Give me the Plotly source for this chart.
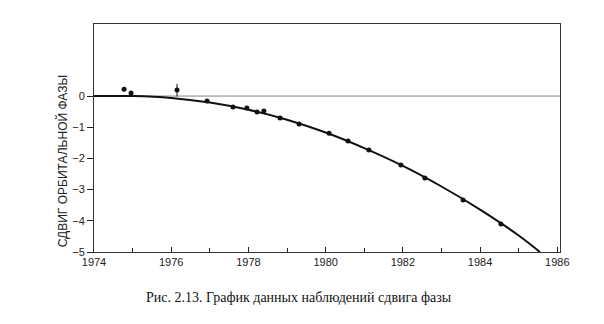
import plotly.graph_objects as go

# Observed data points (year, phase shift)
obs_t = [1974.78, 1974.96, 1976.15, 1976.93, 1977.60, 1977.96, 1978.22, 1978.40,
         1978.82, 1979.31, 1980.09, 1980.58, 1981.12, 1981.95, 1982.57, 1983.56, 1984.54]
obs_y = [0.22, 0.10, 0.19, -0.16, -0.35, -0.38, -0.51, -0.48,
         -0.70, -0.90, -1.19, -1.44, -1.73, -2.21, -2.63, -3.33, -4.10]
obs_err = [0, 0, 0.2, 0, 0, 0, 0, 0, 0, 0, 0, 0, 0, 0, 0, 0, 0]

# Theoretical curve
curve_t = [1974.0, 1975.0, 1976.0, 1977.0, 1978.0, 1979.0, 1980.0, 1981.0,
           1982.0, 1983.0, 1984.0, 1985.0, 1985.55]
curve_y = [0.0, 0.0, -0.06, -0.21, -0.44, -0.76, -1.17, -1.67,
           -2.24, -2.90, -3.64, -4.47, -5.0]

x_ticks = [1974, 1976, 1978, 1980, 1982, 1984, 1986]
y_ticks = [0, -1, -2, -3, -4, -5]
y_labels = ["0", "\u22121", "\u22122", "\u22123", "\u22124", "\u22125"]

fig = go.Figure()

# zero reference line
fig.add_trace(go.Scatter(x=[1974, 1986.07], y=[0, 0], mode="lines",
                         line=dict(color="#888888", width=1), hoverinfo="skip",
                         showlegend=False))

fig.add_trace(go.Scatter(x=curve_t, y=curve_y, mode="lines", line_shape="spline",
                         line=dict(color="#111111", width=2), showlegend=False))

fig.add_trace(go.Scatter(x=obs_t, y=obs_y, mode="markers",
                         marker=dict(color="#111111", size=5),
                         error_y=dict(type="data", array=obs_err, visible=True,
                                      color="#111111", thickness=1, width=0),
                         showlegend=False))

fig.update_xaxes(range=[1974, 1986.07], tickmode="array", tickvals=x_ticks,
                 ticks="inside", ticklen=5, tickcolor="#222", showgrid=False,
                 zeroline=False, showline=True, linecolor="#333", linewidth=1,
                 mirror=True, minor=dict(dtick=1, ticks="inside", ticklen=4,
                                         tickcolor="#222", showgrid=False),
                 tickfont=dict(family="Liberation Sans, Arial", size=11, color="#222"))
fig.update_yaxes(range=[-5, 2.31], tickmode="array", tickvals=y_ticks, ticktext=y_labels,
                 ticks="outside", ticklen=6, tickcolor="#222", showgrid=False,
                 zeroline=False, showline=True, linecolor="#333", linewidth=1,
                 mirror=True,
                 tickfont=dict(family="Liberation Sans, Arial", size=11, color="#222"))

fig.add_annotation(text="СДВИГ ОРБИТАЛЬНОЙ ФАЗЫ", xref="paper", yref="paper",
                   x=-0.088, y=0.40, textangle=-90, showarrow=False,
                   font=dict(family="Liberation Sans, Arial", size=12, color="#222"))

fig.add_annotation(text="Рис. 2.13. График данных наблюдений сдвига фазы",
                   xref="paper", yref="paper", x=0.44, y=-0.20, showarrow=False,
                   xanchor="center", yanchor="middle",
                   font=dict(family="Liberation Serif, Times New Roman", size=14, color="#111"))

fig.update_layout(width=604, height=324, margin=dict(l=94, r=44, t=24, b=72),
                  paper_bgcolor="white", plot_bgcolor="white")

fig.write_html("out.html")
